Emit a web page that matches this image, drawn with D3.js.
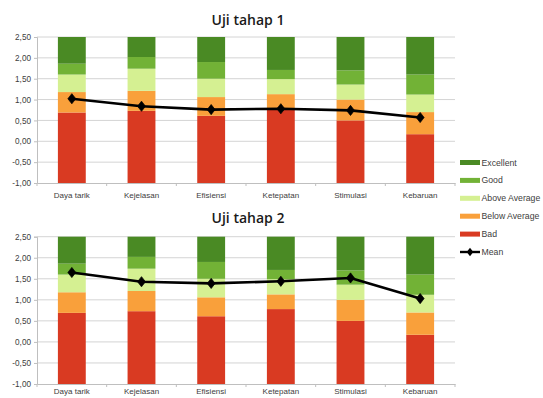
<!DOCTYPE html>
<html>
<head>
<meta charset="utf-8">
<script src="https://cdn.jsdelivr.net/npm/d3@7"></script>
<style>
  html, body { margin: 0; padding: 0; background: #fff; }
  svg { display: block; }
</style>
</head>
<body>
<svg id="chart" width="543" height="398"></svg>
<script>
// Categories and rating bands (segment heights, stacked from the axis floor of -1)
const categories = ["Daya tarik", "Kejelasan", "Efisiensi", "Ketepatan", "Stimulasi", "Kebaruan"];
const seriesNames = ["Bad", "Below Average", "Above Average", "Good", "Excellent"];
const bad          = [1.69, 1.73, 1.61, 1.78, 1.50, 1.17];
const belowAverage = [0.49, 0.48, 0.45, 0.35, 0.50, 0.53];
const aboveAverage = [0.42, 0.53, 0.44, 0.36, 0.36, 0.42];
const good         = [0.26, 0.28, 0.40, 0.22, 0.34, 0.48];
const excellent    = [0.64, 0.48, 0.60, 0.79, 0.80, 0.90];
const meanTahap1   = [1.02, 0.84, 0.76, 0.78, 0.74, 0.57];
const meanTahap2   = [1.65, 1.43, 1.39, 1.44, 1.52, 1.03];
const yTicks       = [-1, -0.5, 0, 0.5, 1, 1.5, 2, 2.5];
const yTickLabels  = ["-1,00", "-0,50", "0,00", "0,50", "1,00", "1,50", "2,00", "2,50"];
const titles       = ["Uji tahap 1", "Uji tahap 2"];

const colors = {
  "Bad": "#d93a22",
  "Below Average": "#f9a03b",
  "Above Average": "#d5f092",
  "Good": "#72b236",
  "Excellent": "#4a8a24"
};

const rows = categories.map((c, i) => ({
  category: c,
  "Bad": bad[i],
  "Below Average": belowAverage[i],
  "Above Average": aboveAverage[i],
  "Good": good[i],
  "Excellent": excellent[i]
}));

const floor = -1;
const stacked = d3.stack().keys(seriesNames)(rows);
// shift every layer so the stack starts from the axis floor
stacked.forEach(layer => layer.forEach(seg => { seg[0] += floor; seg[1] += floor; }));

const svg = d3.select("#chart");
const font = "'Liberation Sans', Arial, sans-serif";

const x = d3.scaleBand().domain(categories).range([37, 455]).paddingInner(0.6).paddingOuter(0.3);

function drawPanel(top, bottom, title, means, titleY, labelPad) {
  const y = d3.scaleLinear().domain([-1, 2.5]).range([bottom, top]);
  const g = svg.append("g");

  // horizontal gridlines
  g.append("g").selectAll("line").data(yTicks.filter(t => t > -1)).join("line")
    .attr("x1", 37).attr("x2", 455)
    .attr("y1", d => y(d)).attr("y2", d => y(d))
    .attr("stroke", "#d4d4d4").attr("stroke-width", 1);

  // stacked bars
  g.append("g").selectAll("g").data(stacked).join("g")
    .attr("fill", d => colors[d.key])
    .selectAll("rect").data(d => d).join("rect")
    .attr("x", d => x(d.data.category))
    .attr("width", x.bandwidth())
    .attr("y", d => y(Math.min(d[1], 2.5)))
    .attr("height", d => y(d[0]) - y(Math.min(d[1], 2.5)));

  // y axis
  const yAxis = d3.axisLeft(y).tickValues(yTicks)
    .tickFormat((d, i) => yTickLabels[i]).tickSize(3).tickPadding(3);
  const ya = g.append("g").attr("transform", "translate(37,0)").call(yAxis);
  ya.select(".domain").attr("stroke", "#bfbfbf");
  ya.selectAll(".tick line").attr("stroke", "#bfbfbf");
  ya.selectAll("text").attr("font-family", font).attr("font-size", 8.2).attr("fill", "#404040");

  // x axis along the floor
  const xAxis = d3.axisBottom(x).tickSize(0).tickPadding(labelPad);
  const xa = g.append("g").attr("transform", `translate(0,${y(-1)})`).call(xAxis);
  xa.select(".domain").attr("stroke", "#bfbfbf");
  xa.selectAll("text").attr("font-family", font).attr("font-size", 8).attr("fill", "#404040");
  // band boundary tick marks
  g.append("g").selectAll("line").data(d3.range(7)).join("line")
    .attr("x1", i => 37 + i * x.step()).attr("x2", i => 37 + i * x.step())
    .attr("y1", y(-1)).attr("y2", y(-1) + 3)
    .attr("stroke", "#bfbfbf");

  // mean line with diamond markers
  const cx = c => x(c) + x.bandwidth() / 2;
  const line = d3.line().x((d, i) => cx(categories[i])).y(d => y(d));
  g.append("path").datum(means).attr("d", line)
    .attr("fill", "none").attr("stroke", "#000").attr("stroke-width", 2.6)
    .attr("stroke-linejoin", "round");
  g.append("g").selectAll("path").data(means).join("path")
    .attr("d", d3.symbol().type(d3.symbolDiamond).size(30))
    .attr("transform", (d, i) => `translate(${cx(categories[i])},${y(d)}) scale(1.35,1)`)
    .attr("fill", "#000").attr("stroke", "#000").attr("stroke-width", 0.6)
    .attr("stroke-linejoin", "round");

  // title
  svg.append("text").attr("x", 248).attr("y", titleY).attr("text-anchor", "middle")
    .attr("font-family", "'Open Sans', sans-serif").attr("font-weight", 600)
    .attr("font-size", 14).attr("fill", "#1a1a1a").text(title);
}

drawPanel(37, 183, titles[0], meanTahap1, 25, 9);
drawPanel(236.7, 384, titles[1], meanTahap2, 223, 4);

// legend
const legendItems = seriesNames.slice().reverse();
const lg = svg.append("g").attr("transform", "translate(460,162.5)");
legendItems.forEach((name, i) => {
  const row = lg.append("g").attr("transform", `translate(0,${i * 17.9})`);
  row.append("rect").attr("x", 0).attr("y", -2.5).attr("width", 20).attr("height", 5).attr("fill", colors[name]);
  row.append("text").attr("x", 21.5).attr("y", 3).attr("font-family", font)
    .attr("font-size", 8.7).attr("fill", "#404040").text(name);
});
const meanRow = lg.append("g").attr("transform", `translate(0,${5 * 17.9})`);
meanRow.append("line").attr("x1", 0).attr("x2", 20).attr("y1", 0).attr("y2", 0)
  .attr("stroke", "#000").attr("stroke-width", 2.4);
meanRow.append("path").attr("d", d3.symbol().type(d3.symbolDiamond).size(22))
  .attr("transform", "translate(10,0) scale(1.3,1)").attr("fill", "#000");
meanRow.append("text").attr("x", 21.5).attr("y", 3).attr("font-family", font)
  .attr("font-size", 8.7).attr("fill", "#404040").text("Mean");
</script>
</body>
</html>
